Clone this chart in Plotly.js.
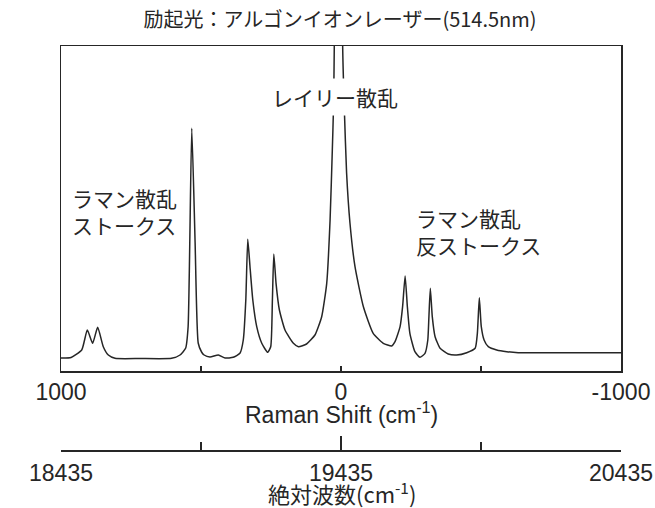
<!DOCTYPE html>
<html>
<head>
<meta charset="utf-8">
<script src="https://cdn.plot.ly/plotly-3.0.1.min.js"></script>
<style>html,body{margin:0;padding:0;background:#fff;}#chart{width:655px;height:508px;}</style>
</head>
<body>
<div id="chart"></div>
<script>
// Raman shift (cm^-1)
const ramanShift = [1000, 964, 926, 906, 887, 869, 849, 831, 807, 718, 605, 575, 555, 546, 533, 521, 510, 498, 489, 468, 438, 414, 385, 361, 349, 340, 333, 325, 315, 301, 283, 262, 251, 245, 240, 232, 220, 200, 170, 152, 123, 93, 69, 51, 39, 31, 27, 24, 12, -6, -12, -20, -32, -50, -80, -115, -151, -181, -193, -211, -220, -229, -237, -246, -264, -282, -300, -310, -314, -319, -326, -336, -354, -383, -413, -449, -479, -487, -494, -501, -511, -526, -556, -592, -633, -782, -1000];
// Intensity (arbitrary units)
const intensity = [13, 13.5, 21, 41, 27.7, 43.7, 24.3, 16, 12.7, 12.5, 12.7, 16, 22.7, 44.3, 242.7, 128, 28, 19, 16, 14, 16, 13, 13.7, 17.7, 31, 71, 131.7, 104.3, 71, 44.3, 27.7, 18.7, 24.3, 71, 117, 87.7, 61, 41, 27.7, 24.3, 27, 36, 54.3, 87.7, 151, 221, 261, 324, 3000, 324, 261, 198, 148, 104.3, 64.3, 37.7, 27.7, 25, 29.3, 44.3, 64.3, 95, 64.3, 37.7, 19.3, 13.7, 17.7, 31, 54.3, 82.7, 54.3, 34.3, 22.7, 17, 16, 18.3, 22.7, 37.7, 73.3, 44.3, 31, 24.3, 21, 19.3, 18.3, 18.3, 18.3];

const shiftTicks = [1000, 500, 0, -500, -1000];
const shiftTickText = ['1000', '', '0', '', '-1000'];
const absTicks = [18435, 19435, 20435];
const absTickText = ['18435', '19435', '20435'];
const absMinorTicks = [18935, 19935];

const titleText = '励起光：アルゴンイオンレーザー(514.5nm)';
const shiftTitle = 'Raman Shift (cm<sup>-1</sup>)';
const absTitle = '絶対波数(cm<sup>-1</sup>)';
const labelRayleigh = 'レイリー散乱';
const labelStokes = 'ラマン散乱<br>ストークス';
const labelAntiStokes = 'ラマン散乱<br>反ストークス';

const FONT = 'Liberation Sans, Arial, Noto Sans CJK JP, sans-serif';
const JP = 'Noto Sans CJK JP, sans-serif';
const INK = '#262626';

// paper area spans pixel rows 46..450
const py = p => (450 - p) / 404;

const traces = [
  {x: ramanShift, y: intensity, type: 'scatter', mode: 'lines',
   line: {color: INK, width: 1.5, shape: 'spline', smoothing: 0.5}, hoverinfo: 'skip', showlegend: false},
  {x: absTicks, y: [null, null, null], xaxis: 'x2', yaxis: 'y', type: 'scatter',
   mode: 'lines', hoverinfo: 'skip', showlegend: false}
];

const layout = {
  width: 655, height: 508,
  margin: {l: 61, r: 34, t: 46, b: 58},
  paper_bgcolor: '#fff', plot_bgcolor: '#fff',
  font: {family: FONT, color: INK},
  showlegend: false,
  title: {text: titleText, x: 340/655, xanchor: 'center', y: 1 - 20/508, yanchor: 'middle',
          font: {size: 20, family: JP, color: INK}},
  xaxis: {
    range: [1000, -1000], tickvals: shiftTicks, ticktext: shiftTickText,
    ticks: 'inside', ticklen: 5, tickwidth: 1.3, tickcolor: INK,
    showline: true, mirror: true, linecolor: INK, linewidth: 1.5,
    showgrid: false, zeroline: false, automargin: false,
    tickfont: {size: 23, family: FONT, color: INK}
  },
  yaxis: {
    domain: [79/404, 1], range: [0, 325],
    showline: true, mirror: true, linecolor: INK, linewidth: 1.5,
    showticklabels: false, ticks: '', showgrid: false, zeroline: false, automargin: false
  },
  xaxis2: {
    overlaying: 'x', anchor: 'free', position: 0, side: 'bottom',
    range: [18435, 20435], tickvals: absTicks, ticktext: absTickText,
    ticks: 'inside', ticklen: 14, tickwidth: 1.3, tickcolor: INK,
    minor: {tickvals: absMinorTicks, ticks: 'inside', ticklen: 8, tickwidth: 1.3, tickcolor: INK, showgrid: false},
    showline: true, linecolor: INK, linewidth: 1.5,
    showgrid: false, zeroline: false, automargin: false,
    ticklabelstandoff: 2,
    tickfont: {size: 23, family: FONT, color: INK}
  },
  annotations: [
    {text: shiftTitle, xref: 'paper', yref: 'paper', x: 280/560, y: py(413), xanchor: 'center', yanchor: 'middle',
     showarrow: false, font: {size: 23, family: FONT, color: INK}},
    {text: absTitle, xref: 'paper', yref: 'paper', x: 281/560, y: py(492), xanchor: 'center', yanchor: 'middle',
     showarrow: false, font: {size: 22, family: JP, color: INK}},
    {text: labelRayleigh, xref: 'x', yref: 'y', x: 20, y: 274, xanchor: 'center', yanchor: 'middle',
     showarrow: false, bgcolor: '#fff', borderpad: 3,
     font: {size: 21, family: JP, color: INK}},
    {text: labelStokes, xref: 'x', yref: 'y', x: 968, y: 160, xanchor: 'left', yanchor: 'middle', align: 'left',
     showarrow: false, font: {size: 21, family: JP, color: INK}},
    {text: labelAntiStokes, xref: 'x', yref: 'y', x: -262, y: 140, xanchor: 'left', yanchor: 'middle', align: 'left',
     showarrow: false, font: {size: 21, family: JP, color: INK}}
  ]
};

Plotly.newPlot('chart', traces, layout, {displayModeBar: false, staticPlot: true});
</script>
</body>
</html>
